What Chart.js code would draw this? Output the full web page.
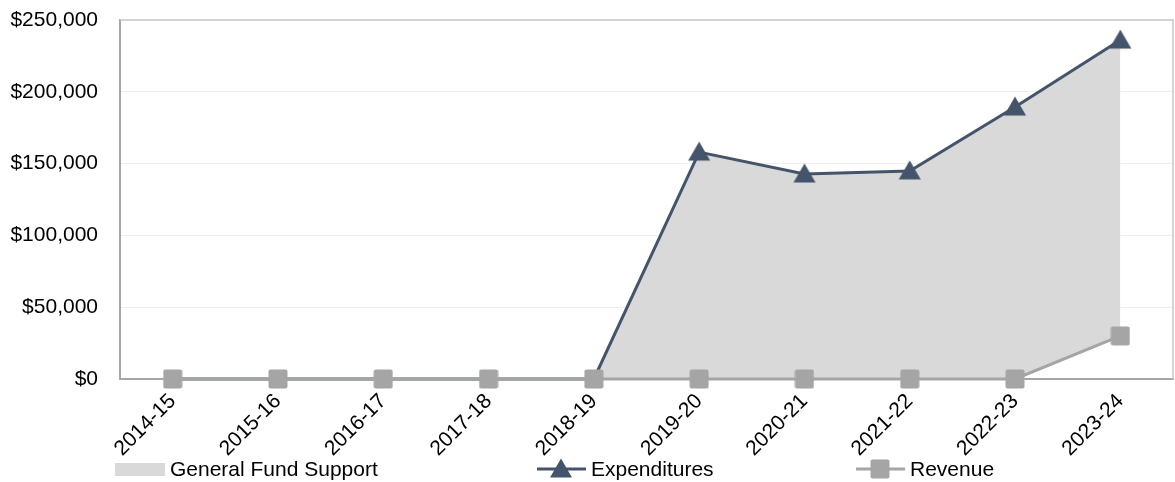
<!DOCTYPE html>
<html>
<head>
<meta charset="utf-8">
<script src="https://cdn.jsdelivr.net/npm/chart.js@4.4.1/dist/chart.umd.min.js"></script>
<style>
  html, body { margin: 0; padding: 0; background: #fff; }
  #wrap { width: 1175px; height: 482px; }
</style>
</head>
<body>
<div id="wrap"><canvas id="chart"></canvas></div>
<script>
const years = ['2014-15', '2015-16', '2016-17', '2017-18', '2018-19', '2019-20', '2020-21', '2021-22', '2022-23', '2023-24'];
const expenditures = [0, 0, 0, 0, 0, 158000, 142800, 144900, 189400, 236000];
const revenue = [0, 0, 0, 0, 0, 0, 0, 0, 0, 30000];
const legendNames = ['General Fund Support', 'Expenditures', 'Revenue'];

const expColor = '#44546A';
const revColor = '#A5A5A5';
const fillColor = '#D9D9D9';
const font = 'Liberation Sans, Arial, sans-serif';
const fontSize = 21;

// marker images, closer to the office-style markers than the built-in shapes
function triangleMarker(color) {
    const c = document.createElement('canvas');
    c.width = 24; c.height = 24;
    const g = c.getContext('2d');
    g.fillStyle = color;
    g.beginPath();
    g.moveTo(12, 1.5);
    g.lineTo(23, 20.5);
    g.lineTo(1, 20.5);
    g.closePath();
    g.fill();
    return c;
}

function squareMarker(color) {
    const c = document.createElement('canvas');
    c.width = 20; c.height = 20;
    const g = c.getContext('2d');
    g.fillStyle = color;
    g.beginPath();
    g.roundRect(0.5, 0.5, 19, 19, 2);
    g.fill();
    return c;
}

const triImg = triangleMarker(expColor);
const sqImg = squareMarker(revColor);

// border around the plot area (top + right are missing in chart.js)
const frame = {
    id: 'frame',
    beforeDatasetsDraw(chart) {
        const a = chart.chartArea;
        const ctx = chart.ctx;
        ctx.save();
        ctx.strokeStyle = '#C8C8C8';
        ctx.lineWidth = 1.5;
        ctx.beginPath();
        ctx.moveTo(a.left, a.top);
        ctx.lineTo(a.right, a.top);
        ctx.lineTo(a.right, a.bottom);
        ctx.stroke();
        ctx.restore();
    }
};

// legend drawn by hand: area swatch, line+triangle, line+square
const legend = {
    id: 'customLegend',
    afterDraw(chart) {
        const ctx = chart.ctx;
        const y = 469;
        ctx.save();
        ctx.font = fontSize + 'px ' + font;
        ctx.textBaseline = 'middle';

        ctx.fillStyle = fillColor;
        ctx.fillRect(115, y - 6, 50, 13);
        ctx.fillStyle = '#000';
        ctx.fillText(legendNames[0], 170, y + 1);

        ctx.strokeStyle = expColor;
        ctx.lineWidth = 3;
        ctx.beginPath();
        ctx.moveTo(537, y);
        ctx.lineTo(586, y);
        ctx.stroke();
        ctx.drawImage(triImg, 561 - 12, y - 12);
        ctx.fillStyle = '#000';
        ctx.fillText(legendNames[1], 591, y + 1);

        ctx.strokeStyle = revColor;
        ctx.beginPath();
        ctx.moveTo(856, y);
        ctx.lineTo(905, y);
        ctx.stroke();
        ctx.drawImage(sqImg, 880 - 10, y - 10);
        ctx.fillStyle = '#000';
        ctx.fillText(legendNames[2], 910, y + 1);
        ctx.restore();
    }
};

new Chart(document.getElementById('chart'), {
    type: 'line',
    data: {
        labels: years,
        datasets: [
            {
                label: legendNames[2],
                data: revenue,
                borderColor: revColor,
                backgroundColor: revColor,
                borderWidth: 3,
                pointStyle: sqImg,
                pointRadius: 10,
                fill: false,
                clip: false,
                order: 0
            },
            {
                label: legendNames[1],
                data: expenditures,
                borderColor: expColor,
                backgroundColor: expColor,
                borderWidth: 3,
                // markers at zero sit behind the revenue squares in the original
                pointStyle: c => (c.raw === 0 ? false : triImg),
                pointRadius: 12,
                fill: false,
                clip: false,
                order: 1
            },
            {
                label: legendNames[0],
                data: expenditures,
                borderWidth: 0,
                borderColor: 'rgba(0,0,0,0)',
                backgroundColor: fillColor,
                pointRadius: 0,
                fill: 0,
                order: 2
            }
        ]
    },
    options: {
        responsive: true,
        maintainAspectRatio: false,
        animation: false,
        layout: { autoPadding: false, padding: { left: 8, right: 2, top: 20, bottom: 3 } },
        plugins: {
            legend: { display: false },
            tooltip: { enabled: false }
        },
        scales: {
            x: {
                offset: true,
                grid: { display: false, drawTicks: false },
                border: { color: '#A6A6A6', width: 2 },
                ticks: {
                    color: '#000',
                    font: { family: font, size: fontSize },
                    minRotation: 45,
                    maxRotation: 45,
                    padding: 10,
                    autoSkip: false
                },
                afterFit(scale) {
                    scale.height = 100;
                    scale.paddingLeft = 0;
                    scale.paddingRight = 0;
                }
            },
            y: {
                min: 0,
                max: 250000,
                grid: { color: '#EFEFEF', lineWidth: 1, drawTicks: false },
                border: { color: '#A6A6A6', width: 2 },
                ticks: {
                    stepSize: 50000,
                    color: '#000',
                    padding: 22,
                    font: { family: font, size: fontSize },
                    callback: v => '$' + v.toLocaleString('en-US')
                },
                afterFit(scale) {
                    scale.width = 112;
                    scale.paddingTop = 0;
                    scale.paddingBottom = 0;
                }
            }
        }
    },
    plugins: [frame, legend]
});
</script>
</body>
</html>
